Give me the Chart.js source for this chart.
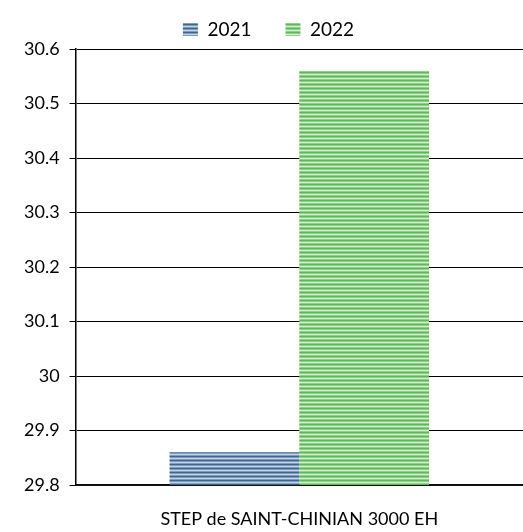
<!DOCTYPE html>
<html>
<head>
<meta charset="utf-8">
<script src="https://cdn.jsdelivr.net/npm/chart.js@4/dist/chart.umd.min.js"></script>
<style>
  html, body { margin: 0; padding: 0; background: #fff; }
  #wrap { width: 523px; height: 532px; }
</style>
</head>
<body>
<div id="wrap"><canvas id="chart"></canvas></div>
<script>
// data
const categories = ['STEP de SAINT-CHINIAN 3000 EH'];
const seriesNames = ['2021', '2022'];
const values2021 = [29.86];
const values2022 = [30.56];
const yTicks = [29.8, 29.9, 30, 30.1, 30.2, 30.3, 30.4, 30.5, 30.6];

// horizontal stripe fill, like the original
function stripes(dark, mid, light) {
    const c = document.createElement('canvas');
    c.width = 4; c.height = 4;
    const g = c.getContext('2d');
    const rows = [dark, mid, light, mid];
    rows.forEach((col, i) => {
        g.fillStyle = col;
        g.fillRect(0, i, 4, 1);
    });
    return g.createPattern(c, 'repeat');
}

const blueFill = stripes('#3e6590', '#7f9cbd', '#c3d3e6');
const greenFill = stripes('#5cb85c', '#92d08a', '#d3eecd');

const ctx = document.getElementById('chart').getContext('2d');
const chart = new Chart(ctx, {
    type: 'bar',
    data: {
        labels: categories,
        datasets: [
            { label: seriesNames[0], data: values2021, backgroundColor: blueFill, borderWidth: 0 },
            { label: seriesNames[1], data: values2022, backgroundColor: greenFill, borderWidth: 0 }
        ]
    },
    options: {
        responsive: true,
        maintainAspectRatio: false,
        animation: false,
        layout: { padding: { top: -14, right: 0, left: 14, bottom: 0 } },
        datasets: { bar: { categoryPercentage: 0.58, barPercentage: 1 } },
        plugins: {
            legend: {
                position: 'top',
                labels: {
                    font: { family: 'Lato', size: 19 },
                    color: '#000',
                    boxWidth: 15,
                    boxHeight: 13,
                    padding: 34
                }
            },
            tooltip: { enabled: false }
        },
        scales: {
            x: {
                grid: { display: false },
                border: { color: '#111', width: 2 },
                afterFit: s => { s.height = 47; },
                ticks: { font: { family: 'Lato', size: 18 }, color: '#000', padding: 15, maxRotation: 0 }
            },
            y: {
                min: yTicks[0],
                max: yTicks[yTicks.length - 1],
                afterBuildTicks: axis => { axis.ticks = yTicks.map(v => ({ value: v })); },
                grid: { color: '#000', lineWidth: 1, tickLength: 6, drawTicks: true },
                border: { color: '#000', width: 1.5 },
                ticks: {
                    font: { family: 'Lato', size: 18 },
                    color: '#000',
                    padding: 10,
                    callback: v => String(Number(v.toFixed(1)))
                }
            }
        }
    }
});
</script>
</body>
</html>
